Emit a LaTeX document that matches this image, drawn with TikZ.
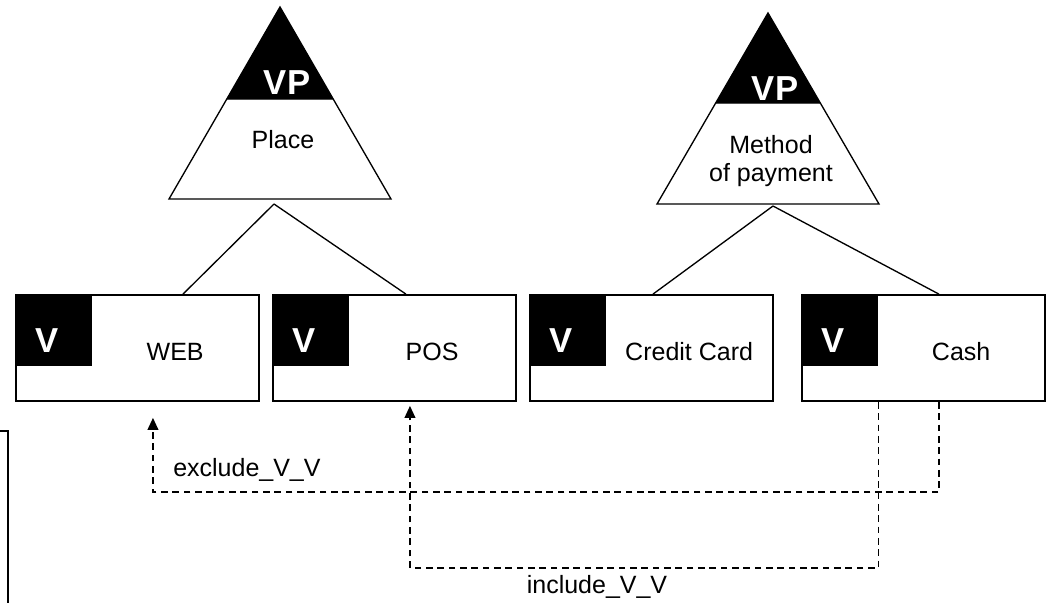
\documentclass[tikz,border=0pt]{standalone}
\usepackage{fontspec}
\setmainfont{Liberation Sans}
\usetikzlibrary{arrows.meta}

\tikzset{
  vbox/.style={draw, line width=1.3pt, minimum width=182.25pt, minimum height=79.5pt, inner sep=0pt},
  vmark/.style={text=white, font=\fontsize{26}{30}\selectfont\bfseries, anchor=base, inner sep=0pt},
  vtext/.style={font=\fontsize{18.75}{20.8}\selectfont, anchor=base, inner sep=0pt},
  tri/.style={line width=1pt},
  dep/.style={line width=1.3pt, dash pattern=on 5pt off 3.5pt, -{Triangle[length=9pt,width=8pt]}}
}

\begin{document}
\begin{tikzpicture}[x=0.75pt, y=-0.75pt]
  \useasboundingbox (0,0) rectangle (1047,603);
  \clip (0,0) rectangle (1047,603);

  \fill (280,7) -- (226.8,99) -- (333.2,99) -- cycle;
  \draw[tri] (280,7) -- (169,199) -- (391,199) -- cycle (226.8,99) -- (333.2,99);
  \node[vmark] (place-vp) at (287,94.5) {VP};
  \node[vtext] (place-name) at (283,148) {Place};
  \coordinate (place-j) at (274,204);

  \fill (768,13) -- (715.7,103) -- (820.3,103) -- cycle;
  \draw[tri] (768,13) -- (657,204) -- (879,204) -- cycle (715.7,103) -- (820.3,103);
  \node[vmark] (pay-vp) at (775,100) {VP};
  \node[vtext, anchor=center, align=center] (pay-name) at (771,161) {Method\\of payment};
  \coordinate (pay-j) at (773,206);

  \foreach \n/\x/\t in {web/137.5/WEB, pos/394.5/POS, credit/651.5/Credit Card, cash/923.5/Cash} {
    \node[vbox] (\n) at (\x,348) {};
    \fill (\n.north west) rectangle ++(77,72);
    \node[vmark] (\n-v) at ([xshift=24pt,yshift=-43.5pt]\n.north west) {V};
    \node[vtext] (\n-name) at ([xshift=120pt,yshift=-49.5pt]\n.north west) {\t};
  }

  \draw[tri] (place-j) -- ([xshift=34.1pt]web.north);
  \draw[tri] (place-j) -- ([xshift=8.6pt]pos.north);
  \draw[tri] (pay-j) -- ([xshift=1.1pt]credit.north);
  \draw[tri] (pay-j) -- ([xshift=11.6pt]cash.north);

  \draw[dep] ([xshift=11.6pt]cash.south) -- ++(0,90) -| ([xshift=11.6pt,yshift=-12pt]web.south);
  \node[vtext, anchor=base west] (excl-lbl) at (173,476) {exclude\_V\_V};
  \draw[dep] ([xshift=-33.75pt]cash.south) -- ++(0,166) -| ([xshift=11.6pt,yshift=-3pt]pos.south);
  \node[vtext] (incl-lbl) at (597,593) {include\_V\_V};

  \draw[line width=1.3pt] (-10,431) -| (8,620);
\end{tikzpicture}
\end{document}
